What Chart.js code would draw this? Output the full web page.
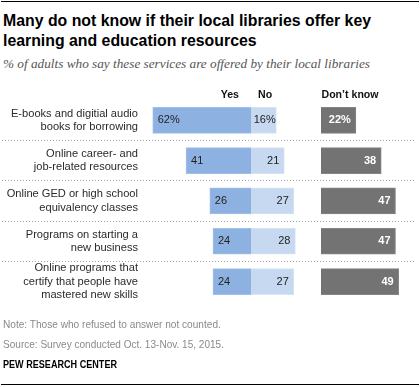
<!DOCTYPE html>
<html><head><meta charset="utf-8">
<script src="https://cdn.jsdelivr.net/npm/chart.js@4"></script>
<style>
html,body{margin:0;padding:0;background:#fff;}
#wrap{position:relative;width:420px;height:387px;overflow:hidden;background:#fff;}
#c{position:absolute;left:0;top:0;}
.t{position:absolute;white-space:nowrap;}
.rule{position:absolute;left:1px;width:418px;height:1px;background:#000;}
</style></head><body>
<div id="wrap">
<div class="rule" style="top:1px"></div>
<div class="t" id="title1">Many do not know if their local libraries offer key</div>
<div class="t" id="title2">learning and education resources</div>
<div class="t" id="sub">% of adults who say these services are offered by their local libraries</div>
<canvas id="c" width="420" height="387"></canvas>
<div class="t" id="note">Note: Those who refused to answer not counted.</div>
<div class="t" id="src">Source: Survey conducted Oct. 13-Nov. 15, 2015.</div>
<div class="t" id="pew">PEW RESEARCH CENTER</div>
<div class="rule" style="top:384px"></div>
</div>
<script>
// ---- data ----
const categories = [
  ["E-books and digitial audio", "books for borrowing"],
  ["Online career- and", "job-related resources"],
  ["Online GED or high school", "equivalency classes"],
  ["Programs on starting a", "new business"],
  ["Online programs that", "certify that people have", "mastered new skills"]
];
const yesValues = [62, 41, 26, 24, 24];
const noValues  = [16, 21, 27, 28, 27];
const dkValues  = [22, 38, 47, 47, 49];
const seriesNames = ["Yes", "No", "Don\u2019t know"];

// ---- text placement ----
const SANS = "'Liberation Sans', Arial, sans-serif";
const SERIF = "'Liberation Serif', 'Times New Roman', serif";
const mctx = document.createElement('canvas').getContext('2d');
function place(id, o) {
  const el = document.getElementById(id);
  const font = `${o.style || 'normal'} ${o.weight || 'normal'} ${o.size}px ${o.family}`;
  el.style.font = font;
  el.style.lineHeight = o.lh + 'px';
  el.style.color = o.color;
  el.style.left = o.left + 'px';
  el.style.top = (o.baseline - o.lh / 2 - o.k * o.size) + 'px';
  let r = o.scale || 1;
  if (o.width) {
    mctx.font = font;
    const w = mctx.measureText(el.textContent).width;
    r = o.width / w;
  }
  el.style.transformOrigin = '0 0';
  el.style.transform = `scaleX(${r})`;
  return r;
}
const KS = 0.3465, KF = 0.3375;
const tr = place('title1', {family: SANS, weight: 'bold', size: 15.6, lh: 20, k: KS, baseline: 26.7, left: 3, width: 368, color: '#000'});
place('title2', {family: SANS, weight: 'bold', size: 15.6, lh: 20, k: KS, baseline: 46.7, left: 3, scale: tr, color: '#000'});
place('sub', {family: SERIF, style: 'italic', size: 12.5, lh: 16, k: KF, baseline: 68.3, left: 3, width: 367, color: '#555'});
place('note', {family: SANS, size: 10.5, lh: 14, k: KS, baseline: 327.3, left: 3, width: 218, color: '#8a8a8a'});
place('src', {family: SANS, size: 10.5, lh: 14, k: KS, baseline: 347.7, left: 3, width: 221, color: '#8a8a8a'});
place('pew', {family: SANS, weight: 'bold', size: 10.5, lh: 14, k: KS, baseline: 367.7, left: 3, width: 114, color: '#000'});

// ---- chart ----
const pewPlugin = {
  id: 'pew',
  beforeDatasetsDraw(chart) {
    const ctx = chart.ctx, y = chart.scales.y;
    ctx.save();
    ctx.strokeStyle = '#a3a3a3';
    ctx.lineWidth = 1;
    ctx.setLineDash([1, 2]);
    for (let i = 0; i < categories.length - 1; i++) {
      const py = Math.floor((y.getPixelForValue(i) + y.getPixelForValue(i + 1)) / 2) + 0.5;
      ctx.beginPath(); ctx.moveTo(2, py); ctx.lineTo(414, py); ctx.stroke();
    }
    ctx.restore();
  },
  afterDatasetsDraw(chart) {
    const ctx = chart.ctx, a = chart.chartArea;
    ctx.save();
    ctx.textBaseline = 'middle';
    const fmt = (v, i) => i === 0 ? v + '%' : String(v);
    // Yes
    ctx.font = `11px ${SANS}`;
    ctx.fillStyle = '#222';
    ctx.textAlign = 'left';
    chart.getDatasetMeta(0).data.forEach((el, i) => {
      ctx.fillText(fmt(yesValues[i], i), Math.min(el.x, el.base) + 5, el.y);
    });
    // No
    chart.getDatasetMeta(1).data.forEach((el, i) => {
      const txt = fmt(noValues[i], i);
      const l = Math.min(el.x, el.base), r = Math.max(el.x, el.base);
      const w = ctx.measureText(txt).width;
      if (w + 10 > r - l) { ctx.textAlign = 'center'; ctx.fillText(txt, (l + r) / 2 + 1, el.y); }
      else { ctx.textAlign = 'right'; ctx.fillText(txt, r - 5, el.y); }
    });
    // Don't know
    ctx.font = `bold 11px ${SANS}`;
    ctx.fillStyle = '#fff';
    ctx.textAlign = 'right';
    chart.getDatasetMeta(2).data.forEach((el, i) => {
      ctx.fillText(fmt(dkValues[i], i), Math.max(el.x, el.base) - 5, el.y);
    });
    // headers
    ctx.textBaseline = 'alphabetic';
    ctx.fillStyle = '#111';
    ctx.font = `bold 10.6px ${SANS}`;
    const hy = a.top - 2.5;
    const z = chart.scales.xy.getPixelForValue(0);
    const z2 = chart.scales.x2.getPixelForValue(0);
    ctx.textAlign = 'right'; ctx.fillText(seriesNames[0], z - 12, hy);
    ctx.textAlign = 'left'; ctx.fillText(seriesNames[1], z + 7, hy);
    ctx.fillText(seriesNames[2], z2 + 0.5, hy);
    ctx.restore();
  }
};

const PX = 1.585, LEFT = 140, RIGHT = 415, ZERO = 251, ZERO2 = 321;
new Chart(document.getElementById('c'), {
  type: 'bar',
  data: {
    labels: categories,
    datasets: [
      {label: seriesNames[0], data: yesValues, xAxisID: 'xy', backgroundColor: '#8db2e1', borderColor: '#a3c1e8', borderWidth: 1, grouped: false, barThickness: 26},
      {label: seriesNames[1], data: noValues, xAxisID: 'x', backgroundColor: '#c6d9f1', borderColor: '#d5e3f5', borderWidth: 1, grouped: false, barThickness: 26},
      {label: seriesNames[2], data: dkValues, xAxisID: 'x2', backgroundColor: '#737373', borderColor: '#858585', borderWidth: 1, grouped: false, barThickness: 26}
    ]
  },
  options: {
    indexAxis: 'y',
    responsive: false,
    animation: false,
    devicePixelRatio: 1,
    layout: {padding: {top: 100.2, bottom: 85.3, left: 0, right: 420 - RIGHT}},
    plugins: {legend: {display: false}, tooltip: {enabled: false}},
    scales: {
      y: {
        type: 'category', position: 'left',
        grid: {display: false, drawTicks: false}, border: {display: false},
        ticks: {padding: 2, color: '#2a2a2a', autoSkip: false, font: {family: SANS, size: 11.1, lineHeight: 1.22}},
        afterFit(s) { s.width = LEFT; }
      },
      x: {type: 'linear', display: false, min: -(ZERO - LEFT) / PX, max: (RIGHT - ZERO) / PX},
      xy: {type: 'linear', display: false, reverse: true, min: -(RIGHT - ZERO) / PX, max: (ZERO - LEFT) / PX},
      x2: {type: 'linear', display: false, min: -(ZERO2 - LEFT) / PX, max: (RIGHT - ZERO2) / PX}
    }
  },
  plugins: [pewPlugin]
});
</script>
</body></html>
